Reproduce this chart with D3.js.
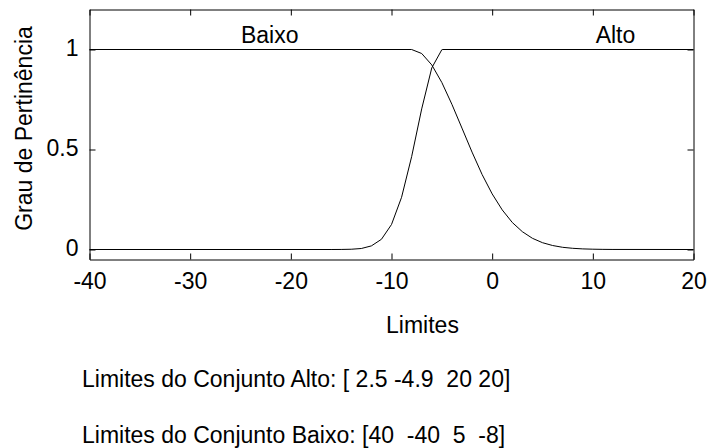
<!DOCTYPE html>
<html>
<head>
<meta charset="utf-8">
<script src="https://cdn.jsdelivr.net/npm/d3@7"></script>
<style>
  html, body { margin: 0; padding: 0; background: #ffffff; }
  svg { display: block; }
  text { font-family: "Liberation Sans", Arial, Helvetica, sans-serif; fill: #000; }
</style>
</head>
<body>
<svg id="chart" width="707" height="448"></svg>
<script>
// Axis ticks
const xTicks = [-40, -30, -20, -10, 0, 10, 20];
const yTicks = [0, 0.5, 1];
const yTickLabels = ["0", "0.5", "1"];

// Membership curve "Alto" (rising edge, then flat at 1)
const altoX = [-40, -16, -15, -14, -13, -12, -11, -10, -9, -8, -7, -6, -5, -4.9, 20];
const altoY = [0, 0, 0.0003, 0.0013, 0.005, 0.018, 0.051, 0.125, 0.261, 0.464, 0.703, 0.908, 0.999, 1, 1];

// Membership curve "Baixo" (flat at 1, then falling edge)
const baixoX = [-40, -8, -7, -6, -5, -4, -3, -2, -1, 0, 1, 2, 3, 4, 5, 6, 7, 8, 9, 10, 11, 12, 20];
const baixoY = [1, 1, 0.980, 0.923, 0.835, 0.726, 0.607, 0.487, 0.375, 0.278, 0.198, 0.135, 0.089, 0.056, 0.034, 0.020, 0.011, 0.006, 0.003, 0.0015, 0.0007, 0.0003, 0];

// Set names and the x value each name is centred on
const setNames = ["Baixo", "Alto"];
const setNameAt = [-22.1, 12.25];

// Texts
const xTitle = "Limites";
const yTitle = "Grau de Pertinência";
const paramLines = [
  "Limites do Conjunto Alto: [ 2.5 -4.9  20 20]",
  "Limites do Conjunto Baixo: [40  -40  5  -8]"
];

const FONT = 23;
const svg = d3.select("#chart");

const x = d3.scaleLinear().domain([-40, 20]).range([89.5, 693.5]);
const y = d3.scaleLinear().domain([-0.05, 1.2]).range([259.5, 9.5]);

const TICK = 6;

// Bottom axis with inward ticks and labels
const gx = svg.append("g")
  .attr("transform", `translate(0,${y.range()[0]})`)
  .call(d3.axisBottom(x).tickValues(xTicks).tickSizeInner(-TICK).tickSizeOuter(0)
    .tickFormat(d => String(d)));
gx.selectAll("text")
  .attr("y", 0).attr("dy", 0)
  .attr("transform", "translate(0,29.5)")
  .style("font-size", FONT + "px");

// Top axis: ticks only
svg.append("g")
  .attr("transform", `translate(0,${y.range()[1]})`)
  .call(d3.axisTop(x).tickValues(xTicks).tickSizeInner(-TICK).tickSizeOuter(0).tickFormat(""));

// Left axis with labels
const gy = svg.append("g")
  .attr("transform", `translate(${x.range()[0]},0)`)
  .call(d3.axisLeft(y).tickValues(yTicks).tickSizeInner(-TICK).tickSizeOuter(0)
    .tickFormat((d, i) => yTickLabels[i]));
gy.selectAll("text")
  .attr("x", -11).attr("dy", "0.26em")
  .style("font-size", FONT + "px");

// Right axis: ticks only
svg.append("g")
  .attr("transform", `translate(${x.range()[1]},0)`)
  .call(d3.axisRight(y).tickValues(yTicks).tickSizeInner(-TICK).tickSizeOuter(0).tickFormat(""));

svg.selectAll(".domain").attr("stroke", "#000").attr("stroke-width", 1);
svg.selectAll(".tick line").attr("stroke", "#000").attr("stroke-width", 1);

// Curves
const line = d3.line().x(d => x(d[0])).y(d => y(d[1]));
const curves = [
  d3.zip(baixoX, baixoY),
  d3.zip(altoX, altoY)
];
svg.append("g").selectAll("path")
  .data(curves)
  .join("path")
  .attr("d", line)
  .attr("fill", "none")
  .attr("stroke", "#000")
  .attr("stroke-width", 1);

// Set names above the curves
svg.append("g").selectAll("text")
  .data(setNames)
  .join("text")
  .attr("x", (d, i) => x(setNameAt[i]))
  .attr("y", 43)
  .attr("text-anchor", "middle")
  .style("font-size", FONT + "px")
  .text(d => d);

// Axis titles
svg.append("text")
  .attr("x", 422.5).attr("y", 333)
  .attr("text-anchor", "middle")
  .style("font-size", FONT + "px")
  .text(xTitle);

svg.append("text")
  .attr("transform", "translate(32,128.5) rotate(-90)")
  .attr("text-anchor", "middle")
  .style("font-size", FONT + "px")
  .text(yTitle);

// Parameter lines below the plot
svg.append("g").selectAll("text")
  .data(paramLines)
  .join("text")
  .attr("x", 82)
  .attr("y", (d, i) => 386.5 + i * 56.5)
  .style("font-size", FONT + "px")
  .style("white-space", "pre")
  .attr("xml:space", "preserve")
  .text(d => d);
</script>
</body>
</html>
